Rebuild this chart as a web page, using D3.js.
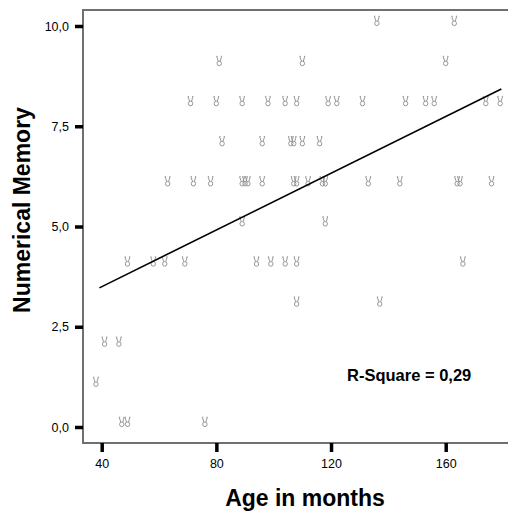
<!DOCTYPE html>
<html>
<head>
  <meta charset="utf-8">
  <title>Numerical Memory by age</title>
  <style>
    body { margin: 0; background: #fff; }
    text { font-family: "Liberation Sans", Arial, sans-serif; }
  </style>
</head>
<body>
  <svg width="508" height="515"></svg>
  <script src="https://cdn.jsdelivr.net/npm/d3@7"></script>
  <script>
  // data (age in months, score)
  var ages = [
    136, 163,
    81, 110, 160,
    71, 80, 89, 98, 104, 108, 119, 122, 131, 146, 153, 156, 174, 179,
    82, 96, 106, 107, 110, 116,
    63, 72, 78, 89, 90, 91, 96, 107, 108, 112, 117, 118, 133, 144, 164, 165, 176,
    89, 118,
    49, 58, 62, 69, 94, 99, 104, 108, 166,
    108, 137,
    41, 46,
    38,
    47, 49, 76
  ];
  var scores = [
    10, 10,
    9, 9, 9,
    8, 8, 8, 8, 8, 8, 8, 8, 8, 8, 8, 8, 8, 8,
    7, 7, 7, 7, 7, 7,
    6, 6, 6, 6, 6, 6, 6, 6, 6, 6, 6, 6, 6, 6, 6, 6, 6,
    5, 5,
    4, 4, 4, 4, 4, 4, 4, 4, 4,
    3, 3,
    2, 2,
    1,
    0, 0, 0
  ];
  var fitLine = [[39.2, 3.47], [179.4, 8.43]];
  var xTicks = [40, 80, 120, 160];
  var yTicks = [0, 2.5, 5, 7.5, 10];
  var rSquare = "0,29";

  var svg = d3.select("svg");
  var plotLeft = 83, plotTop = 10, plotBottom = 443, plotRight = 520;

  var x = d3.scaleLinear().domain([40, 160]).range([101.7, 445.7]);
  var y = d3.scaleLinear().domain([0, 10]).range([427, 26]);
  var comma = function(d) { return d3.format(".1f")(d).replace(".", ","); };

  // frame
  svg.append("path")
    .attr("d", "M" + plotRight + "," + plotTop + "H" + plotLeft + "V" + plotBottom + "H" + plotRight)
    .attr("fill", "none")
    .attr("stroke", "#707070")
    .attr("stroke-width", 2);

  // axes
  var xAxis = svg.append("g")
    .attr("transform", "translate(0," + plotBottom + ")")
    .call(d3.axisBottom(x).tickValues(xTicks).tickSize(9).tickPadding(7).tickSizeOuter(0));
  var yAxis = svg.append("g")
    .attr("transform", "translate(" + plotLeft + ",0)")
    .call(d3.axisLeft(y).tickValues(yTicks).tickFormat(comma).tickSize(8).tickPadding(6).tickSizeOuter(0));
  [xAxis, yAxis].forEach(function(a) {
    a.select(".domain").remove();
    a.selectAll("line").attr("stroke", "#000").attr("stroke-width", 3.5);
    a.selectAll("text")
      .attr("fill", "#000")
      .style("font-size", "12.5px")
      .style("font-family", "'Liberation Sans', Arial, sans-serif");
  });

  // points: small grey "hand" markers like the SPSS default
  var marker = svg.append("g")
    .selectAll("g")
    .data(ages)
    .enter()
    .append("g")
    .attr("transform", function(d, i) {
      return "translate(" + x(d) + "," + (y(scores[i]) - 5) + ")";
    })
    .attr("fill", "none")
    .attr("stroke", "#8c8c8c")
    .attr("stroke-width", 0.9);
  marker.append("path")
    .attr("d", "M-1,0L-2.6,-4.8M1,0L2.4,-4.8M-2.6,-4.8L-1.6,-4.8M1.6,-4.8L2.6,-4.8");
  marker.append("ellipse")
    .attr("cx", 0)
    .attr("cy", 2.3)
    .attr("rx", 2.2)
    .attr("ry", 2.3);

  // fit line
  svg.append("path")
    .datum(fitLine)
    .attr("d", d3.line()
      .x(function(d) { return x(d[0]); })
      .y(function(d) { return y(d[1]); }))
    .attr("fill", "none")
    .attr("stroke", "#000")
    .attr("stroke-width", 1.6);

  svg.append("text")
    .attr("x", 347)
    .attr("y", 381)
    .style("font-size", "16.5px")
    .style("font-weight", "bold")
    .text("R-Square = " + rSquare);

  // axis titles
  svg.append("text")
    .attr("x", 305)
    .attr("y", 506)
    .attr("text-anchor", "middle")
    .style("font-size", "23px")
    .style("font-weight", "bold")
    .text("Age in months");

  svg.append("text")
    .attr("transform", "translate(30,210) rotate(-90)")
    .attr("text-anchor", "middle")
    .style("font-size", "23px")
    .style("font-weight", "bold")
    .text("Numerical Memory");
  </script>
</body>
</html>
